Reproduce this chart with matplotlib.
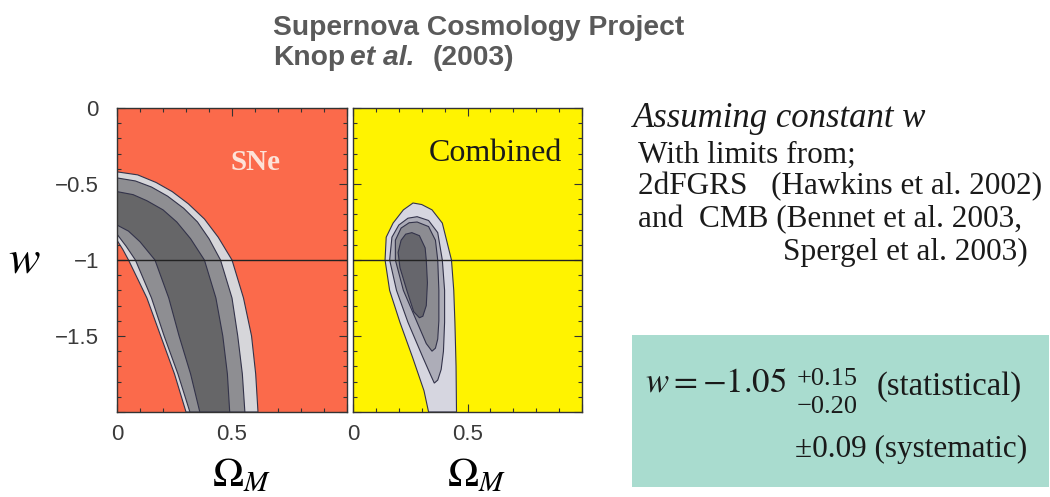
import matplotlib
matplotlib.use("Agg")
import matplotlib.pyplot as plt
from matplotlib.ticker import MultipleLocator

W, H = 1050, 497

# SNe-only confidence bands: boundaries as (Omega_M, w) points
# right-hand (outer) boundaries, from the top (Omega_M = 0) down to w = -2
sne_r3_om = [0.0, 0.09, 0.17, 0.24, 0.31, 0.38, 0.44, 0.50, 0.55, 0.585, 0.603, 0.613]
sne_r3_w = [-0.42, -0.44, -0.49, -0.55, -0.63, -0.73, -0.85, -1.0, -1.25, -1.5, -1.75, -2.0]
sne_r2_om = [0.0, 0.08, 0.15, 0.22, 0.29, 0.35, 0.40, 0.45, 0.50, 0.525, 0.545, 0.556]
sne_r2_w = [-0.46, -0.48, -0.52, -0.58, -0.66, -0.75, -0.86, -1.0, -1.25, -1.5, -1.75, -2.0]
sne_r1_om = [0.0, 0.07, 0.13, 0.20, 0.26, 0.32, 0.38, 0.43, 0.46, 0.48, 0.49]
sne_r1_w = [-0.55, -0.57, -0.61, -0.67, -0.75, -0.86, -1.0, -1.25, -1.5, -1.75, -2.0]
# left-hand (inner) boundaries
sne_l3_om = [0.0, 0.025, 0.05, 0.13, 0.19, 0.25, 0.30]
sne_l3_w = [-0.87, -0.93, -1.0, -1.25, -1.5, -1.75, -2.0]
sne_l2_om = [0.0, 0.04, 0.08, 0.15, 0.205, 0.265, 0.317]
sne_l2_w = [-0.83, -0.91, -1.0, -1.25, -1.5, -1.75, -2.0]
sne_l1_om = [0.0, 0.05, 0.10, 0.165, 0.225, 0.27, 0.32, 0.36]
sne_l1_w = [-0.77, -0.81, -0.88, -1.0, -1.25, -1.5, -1.75, -2.0]

# combined contours, closed outlines (Omega_M, w), outermost first
comb_c4_om = [0.262, 0.30, 0.345, 0.39, 0.43, 0.44, 0.445, 0.45, 0.452, 0.33, 0.31, 0.26, 0.205, 0.16, 0.14, 0.145, 0.175, 0.22]
comb_c4_w = [-0.625, -0.635, -0.67, -0.757, -1.0, -1.2, -1.41, -1.7, -2.0, -2.0, -1.86, -1.64, -1.41, -1.2, -1.0, -0.85, -0.757, -0.67]
comb_c3_om = [0.28, 0.33, 0.37, 0.39, 0.40, 0.40, 0.395, 0.385, 0.37, 0.355, 0.34, 0.305, 0.24, 0.19, 0.16, 0.17, 0.20, 0.24]
comb_c3_w = [-0.715, -0.74, -0.82, -1.0, -1.2, -1.41, -1.6, -1.72, -1.79, -1.81, -1.76, -1.64, -1.41, -1.2, -1.0, -0.85, -0.77, -0.725]
comb_c2_om = [0.28, 0.33, 0.36, 0.37, 0.375, 0.375, 0.37, 0.36, 0.345, 0.32, 0.28, 0.22, 0.185, 0.185, 0.21, 0.245]
comb_c2_w = [-0.75, -0.78, -0.87, -1.0, -1.2, -1.4, -1.52, -1.58, -1.6, -1.55, -1.41, -1.2, -1.0, -0.87, -0.79, -0.755]
comb_c1_om = [0.257, 0.29, 0.315, 0.32, 0.325, 0.32, 0.305, 0.29, 0.265, 0.235, 0.205, 0.197, 0.21, 0.23]
comb_c1_w = [-0.82, -0.84, -0.92, -1.0, -1.15, -1.3, -1.37, -1.38, -1.34, -1.2, -1.05, -0.95, -0.87, -0.83]

w_ref = -1.0
xtick_vals = [0, 0.5, 1.0]
xtick_labels = ["0", "0.5", ""]
ytick_vals = [0, -0.5, -1.0, -1.5, -2.0]
ytick_labels = ["0", "\u22120.5", "\u22121", "\u22121.5", ""]

plt.rcParams["mathtext.fontset"] = "stix"
sans = "Liberation Sans"
serif = "Liberation Serif"

fig = plt.figure(figsize=(W / 100, H / 100), dpi=100)
fig.patch.set_facecolor("white")


def px_axes(x0, y0, x1, y1):
    return fig.add_axes([x0 / W, 1 - y1 / H, (x1 - x0) / W, (y1 - y0) / H])


def style_axes(ax, bg, show_y):
    ax.set_facecolor(bg)
    ax.set_xlim(0, 1)
    ax.set_ylim(-2, 0)
    ax.set_xticks(xtick_vals)
    ax.set_xticklabels(xtick_labels)
    ax.set_yticks(ytick_vals)
    if show_y:
        ax.set_yticklabels(ytick_labels)
    else:
        ax.set_yticklabels([])
    ax.xaxis.set_minor_locator(MultipleLocator(0.1))
    ax.yaxis.set_minor_locator(MultipleLocator(0.1))
    ax.tick_params(which="both", direction="in", top=True, right=True,
                   color="#333333", width=0.8)
    ax.tick_params(which="major", length=6)
    ax.tick_params(which="minor", length=3)
    ax.tick_params(axis="x", pad=9, labelsize=16, labelcolor="#3a3a3a")
    ax.tick_params(axis="y", pad=13, labelsize=16, labelcolor="#3a3a3a")
    for lab in ax.get_xticklabels() + ax.get_yticklabels():
        lab.set_fontfamily(sans)
    for sp in ax.spines.values():
        sp.set_color("#333333")
        sp.set_linewidth(1.0)
    ax.set_xlabel(r"$\Omega_M$", fontsize=30, labelpad=2)
    ax.xaxis.set_label_coords(0.54, -0.135, transform=ax.transAxes)
    ax.xaxis.label.set_va("top")
    ax.axhline(w_ref, color="#222222", lw=1.0, zorder=5)


edge = "#33334a"

# left panel: SNe only
ax1 = px_axes(117, 108, 347, 412)
style_axes(ax1, "#fb6a4b", True)
bands = [
    (sne_r3_om, sne_r3_w, sne_l3_om, sne_l3_w, "#d6d6da"),
    (sne_r2_om, sne_r2_w, sne_l2_om, sne_l2_w, "#8e8e92"),
    (sne_r1_om, sne_r1_w, sne_l1_om, sne_l1_w, "#666668"),
]
for rom, rw, lom, lw_, col in bands:
    xs = list(rom) + list(lom[::-1])
    ys = list(rw) + list(lw_[::-1])
    ax1.fill(xs, ys, facecolor=col, edgecolor=edge, lw=0.8, zorder=2)
ax1.text(0.6, 0.822, "SNe", transform=ax1.transAxes, ha="center", va="center",
         fontsize=21, fontweight="bold", color="#fde3d8", family=serif)
ax1.set_ylabel("$w$", fontsize=34, rotation=0, labelpad=22, va="center")

# right panel: combined
ax2 = px_axes(353, 108, 582, 412)
style_axes(ax2, "#fff300", False)
combos = [
    (comb_c4_om, comb_c4_w, "#d6d6e0"),
    (comb_c3_om, comb_c3_w, "#adadb8"),
    (comb_c2_om, comb_c2_w, "#8c8c92"),
    (comb_c1_om, comb_c1_w, "#66666c"),
]
for om, ww, col in combos:
    ax2.fill(om, ww, facecolor=col, edgecolor=edge, lw=0.8, zorder=2)
ax2.text(0.913, 0.85, "Combined", transform=ax2.transAxes, ha="right", va="center",
         fontsize=23, color="#1a1a1a", family=serif)


def ftext(x, y, s, **kw):
    fig.text(x / W, 1 - y / H, s, va="baseline", **kw)


# title
tcol = "#5a5a5a"
ftext(273, 35, "Supernova Cosmology Project", fontsize=20.3, fontweight="bold",
      color=tcol, family=sans)
ftext(273, 65, "Knop", fontsize=20.3, fontweight="bold", color=tcol, family=sans)
ftext(350, 65, "et al.", fontsize=20.3, fontweight="bold", style="italic",
      color=tcol, family=sans)
ftext(433, 65, "(2003)", fontsize=20.3, fontweight="bold", color=tcol, family=sans)

# annotation text
ftext(633, 127, "Assuming constant w", fontsize=25, style="italic",
      color="#1a1a1a", family=serif)
ftext(638, 163, "With limits from;", fontsize=22.5, color="#1a1a1a", family=serif)
ftext(638, 194, "2dFGRS   (Hawkins et al. 2002)", fontsize=22.5, color="#1a1a1a", family=serif)
ftext(638, 227, "and  CMB (Bennet et al. 2003,", fontsize=22.5, color="#1a1a1a", family=serif)
ftext(783, 260, "Spergel et al. 2003)", fontsize=22.5, color="#1a1a1a", family=serif)

# result box
box = plt.Rectangle((632 / W, 1 - 487 / H), (1049 - 632) / W, (487 - 335) / H,
                    transform=fig.transFigure, facecolor="#a9dccf", edgecolor="none")
fig.patches.append(box)
ftext(645, 392, r"$w = -1.05$", fontsize=25, color="#1a1a1a")
ftext(797, 385, "+0.15", fontsize=19, color="#1a1a1a", family=serif)
ftext(797, 413, "\u22120.20", fontsize=19, color="#1a1a1a", family=serif)
ftext(877, 395, "(statistical)", fontsize=23.5, color="#1a1a1a", family=serif)
ftext(795, 457, "\u00b10.09 (systematic)", fontsize=22.5, color="#1a1a1a", family=serif)

fig.savefig("out.png", dpi=100)
